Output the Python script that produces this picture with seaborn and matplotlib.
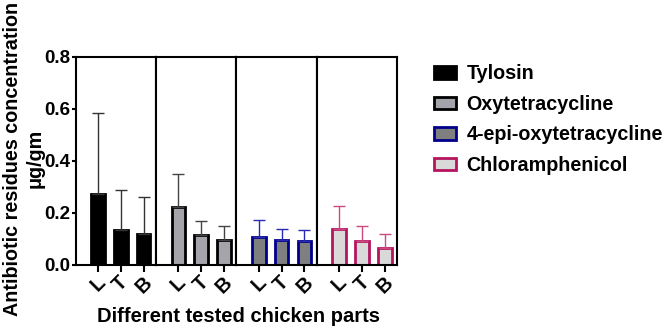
import numpy as np
import pandas as pd
import matplotlib
matplotlib.use("Agg")
import matplotlib.pyplot as plt
import seaborn as sns
from matplotlib.patches import Patch

# data
parts = ["L", "T", "B"]
drugs = ["Tylosin", "Oxytetracycline", "4-epi-oxytetracycline", "Chloramphenicol"]
tylosin_mean = [0.272, 0.133, 0.120]
tylosin_sd = [0.310, 0.153, 0.142]
oxy_mean = [0.223, 0.113, 0.096]
oxy_sd = [0.124, 0.057, 0.051]
epi_mean = [0.107, 0.094, 0.090]
epi_sd = [0.066, 0.045, 0.044]
chlor_mean = [0.136, 0.092, 0.065]
chlor_sd = [0.090, 0.058, 0.055]

means = [tylosin_mean, oxy_mean, epi_mean, chlor_mean]
sds = [tylosin_sd, oxy_sd, epi_sd, chlor_sd]

fills = ["#000000", "#a3a3ab", "#7f7f7f", "#d9d9d9"]
edges = ["#000000", "#000000", "#00008b", "#b5145f"]
err_colors = ["#333333", "#444444", "#2a2ab0", "#cc4a80"]

sns.set_style("white")
plt.rcParams["font.family"] = ["Liberation Sans", "DejaVu Sans"]
plt.rcParams["font.weight"] = "bold"
plt.rcParams["text.color"] = "black"
plt.rcParams["axes.labelcolor"] = "black"
plt.rcParams["xtick.color"] = "black"
plt.rcParams["ytick.color"] = "black"

fig, axes = plt.subplots(1, 4, figsize=(6.69, 3.33), dpi=100, sharey=True)
fig.subplots_adjust(left=0.113, right=0.594, top=0.83, bottom=0.205, wspace=0)

for i, ax in enumerate(axes):
    df = pd.DataFrame({"part": parts, "value": means[i]})
    sns.barplot(data=df, x="part", y="value", ax=ax, color=fills[i],
                edgecolor=edges[i], linewidth=2, width=0.6, errorbar=None)
    ax.errorbar(np.arange(3), means[i], yerr=[np.zeros(3), sds[i]], fmt="none",
                ecolor=err_colors[i], elinewidth=1, capsize=4, capthick=1, zorder=1)
    ax.set_xlim(-0.98, 2.55)
    ax.set_ylim(0, 0.8)
    ax.set_xlabel("")
    ax.set_ylabel("")
    for s in ax.spines.values():
        s.set_linewidth(1.5)
        s.set_color("black")
    ax.tick_params(axis="x", bottom=True, length=5, width=1.5, direction="out",
                   labelsize=14.5, pad=1)
    for lab in ax.get_xticklabels():
        lab.set_rotation(45)
        lab.set_fontweight("bold")
    if i > 0:
        ax.tick_params(axis="y", left=False)

ax0 = axes[0]
ax0.set_yticks([0.0, 0.2, 0.4, 0.6, 0.8])
ax0.set_yticklabels(["0.0", "0.2", "0.4", "0.6", "0.8"], fontsize=13.5, fontweight="bold")
ax0.tick_params(axis="y", left=True, length=3, width=1.5, direction="out", pad=0.8)

# y title drawn as figure text so both lines sit left of the tick labels
fig.text(0.035, 0.524, "Antibiotic residues concentration\nμg/gm", rotation=90,
         ha="center", va="center", multialignment="center", fontsize=14.2,
         fontweight="bold", linespacing=1.25)

fig.text(0.357, 0.022, "Different tested chicken parts", ha="center", va="bottom",
         fontsize=14.5, fontweight="bold")

handles = [Patch(facecolor=fills[i], edgecolor=edges[i], linewidth=2, label=drugs[i])
           for i in range(4)]
fig.legend(handles=handles, loc="upper left", bbox_to_anchor=(0.637, 0.83),
           frameon=False, prop={"size": 14.2, "weight": "bold"},
           handlelength=1.1, handleheight=0.6, handletextpad=0.55, labelspacing=0.58,
           borderaxespad=0)

fig.savefig("out.png", dpi=100)
